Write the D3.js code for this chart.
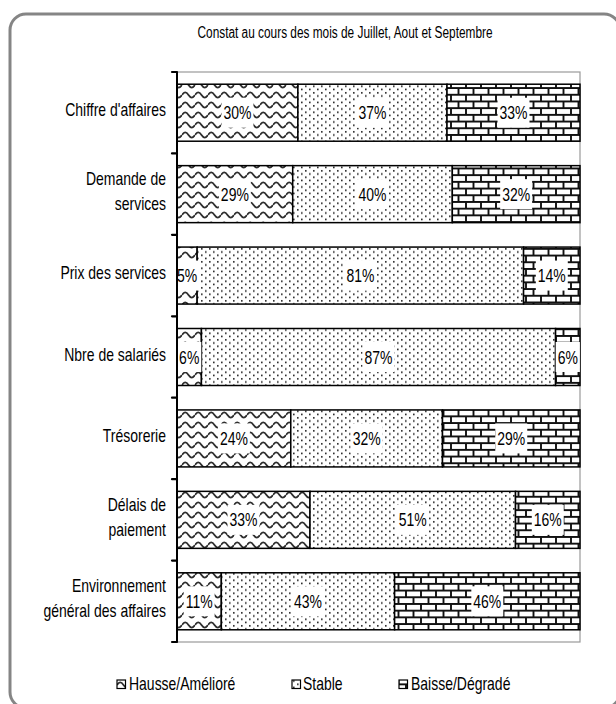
<!DOCTYPE html>
<html>
<head>
<meta charset="utf-8">
<script src="https://cdn.jsdelivr.net/npm/d3@7"></script>
<style>
  html, body { margin: 0; padding: 0; background: #fff; }
  svg { display: block; }
  text { font-family: "Liberation Sans", Arial, sans-serif; fill: #000; }
</style>
</head>
<body>
<svg id="chart" width="616" height="704"></svg>
<script>
// ---- data ----
const title = "Constat au cours des mois de Juillet, Aout et Septembre";
const categories = [
  "Chiffre d'affaires",
  "Demande de\nservices",
  "Prix des services",
  "Nbre de salariés",
  "Trésorerie",
  "Délais de\npaiement",
  "Environnement\ngénéral des affaires"
];
const seriesNames = ["Hausse/Amélioré", "Stable", "Baisse/Dégradé"];
const hausse = [30, 29, 5, 6, 24, 33, 11];
const stable = [37, 40, 81, 87, 32, 51, 43];
const baisse = [33, 32, 14, 6, 29, 16, 46];

// ---- layout ----
const SX = 0.76; // horizontal condensation (narrow font look)
const plot = { left: 177, right: 580, top: 72, bottom: 642 };
const svg = d3.select("#chart");

// patterns
const defs = svg.append("defs");
const pWave = defs.append("pattern").attr("id", "pWave").attr("patternUnits", "userSpaceOnUse")
  .attr("width", 13).attr("height", 10);
pWave.append("rect").attr("width", 13).attr("height", 10).attr("fill", "#fff");
pWave.append("path").attr("d", "M0,5 C2.2,1.6 4.3,1.6 6.5,5 S10.8,8.4 13,5")
  .attr("fill", "none").attr("stroke", "#2e2e2e").attr("stroke-width", 1.8);

const pDot = defs.append("pattern").attr("id", "pDot").attr("patternUnits", "userSpaceOnUse")
  .attr("width", 8).attr("height", 6.5);
pDot.append("rect").attr("width", 8).attr("height", 6.5).attr("fill", "#fff");
pDot.append("rect").attr("x", 1).attr("y", 1).attr("width", 1.6).attr("height", 1.6).attr("fill", "#222");
pDot.append("rect").attr("x", 5).attr("y", 4.2).attr("width", 1.6).attr("height", 1.6).attr("fill", "#222");

const pBrick = defs.append("pattern").attr("id", "pBrick").attr("patternUnits", "userSpaceOnUse")
  .attr("width", 15).attr("height", 13.4);
pBrick.append("rect").attr("width", 15).attr("height", 13.4).attr("fill", "#fff");
pBrick.append("path")
  .attr("d", "M0,0.9H15 M0,7.6H15 M1,0.9V7.6 M8.5,7.6V13.4")
  .attr("fill", "none").attr("stroke", "#111").attr("stroke-width", 1.9);

const fills = ["url(#pWave)", "url(#pDot)", "url(#pBrick)"];

// outer rounded frame
svg.append("rect")
  .attr("x", 10).attr("y", 14).attr("width", 610).attr("height", 694)
  .attr("rx", 16).attr("ry", 16)
  .attr("fill", "none").attr("stroke", "#858585").attr("stroke-width", 3);

// helper for condensed text
function ctext(parent, x, y, str, size, anchor) {
  const g = parent.append("g").attr("transform", `translate(${x},${y}) scale(${SX},1)`);
  const t = g.append("text").attr("x", 0).attr("y", 0)
    .attr("font-size", size).attr("text-anchor", anchor || "start").text(str);
  return { g, t };
}

// title
ctext(svg, 345, 38, title, 15.6, "middle");

// scales
const y = d3.scaleBand().domain(categories).range([plot.top, plot.bottom])
  .paddingInner(0.3).paddingOuter(0.15);
const x = d3.scaleLinear().domain([0, 1]).range([plot.left, plot.right]);

// stacked (normalized to 100%) data
const table = categories.map((c, i) => ({ cat: c, h: hausse[i], s: stable[i], b: baisse[i] }));
const stack = d3.stack().keys(["h", "s", "b"]).offset(d3.stackOffsetExpand);
const layers = stack(table);

// plot area border (gray)
svg.append("rect")
  .attr("x", plot.left).attr("y", plot.top)
  .attr("width", plot.right - plot.left).attr("height", plot.bottom - plot.top)
  .attr("fill", "none").attr("stroke", "#9a9a9a").attr("stroke-width", 1.2);

// bars
layers.forEach((layer, li) => {
  svg.append("g").selectAll("rect").data(layer).join("rect")
    .attr("x", d => x(d[0]))
    .attr("y", d => y(d.data.cat))
    .attr("width", d => x(d[1]) - x(d[0]))
    .attr("height", y.bandwidth())
    .attr("fill", fills[li])
    .attr("stroke", "#000").attr("stroke-width", 1.5);
});

// labels with white boxes
const labG = svg.append("g");
layers.forEach((layer, li) => {
  layer.forEach(d => {
    const val = d.data[layer.key];
    const cx = (x(d[0]) + x(d[1])) / 2;
    const cy = y(d.data.cat) + y.bandwidth() / 2;
    const { g, t } = ctext(labG, cx, cy + 6.5, val + "%", 18.4, "middle");
    const w = t.node().getComputedTextLength();
    g.insert("rect", "text")
      .attr("x", -w / 2 - 2 / SX).attr("y", -21.5)
      .attr("width", w + 4 / SX).attr("height", 30)
      .attr("fill", "#fff");
  });
});

// y axis line + ticks
svg.append("line")
  .attr("x1", plot.left).attr("x2", plot.left)
  .attr("y1", plot.top).attr("y2", plot.bottom)
  .attr("stroke", "#000").attr("stroke-width", 2);
const tickYs = categories.map(c => y(c) - y.step() * y.paddingInner() / 2);
tickYs[0] = plot.top;
tickYs.push(plot.bottom);
svg.append("g").selectAll("line").data(tickYs).join("line")
  .attr("x1", plot.left - 5).attr("x2", plot.left)
  .attr("y1", d => d).attr("y2", d => d)
  .attr("stroke", "#000").attr("stroke-width", 2.2).attr("stroke-linecap", "round");

// category labels
categories.forEach(c => {
  const lines = c.split("\n");
  const cy = y(c) + y.bandwidth() / 2 - 3;
  const lh = 25;
  lines.forEach((ln, k) => {
    const ly = cy + (k - (lines.length - 1) / 2) * lh + 6.5;
    ctext(svg, 166, ly, ln, 18.4, "end");
  });
});

// legend
const legendItems = [
  { x: 117, tx: 129 },
  { x: 292, tx: 303 },
  { x: 399, tx: 411 }
];
seriesNames.forEach((name, i) => {
  svg.append("rect")
    .attr("x", legendItems[i].x).attr("y", 680)
    .attr("width", 8.5).attr("height", 8.5)
    .attr("fill", fills[i]).attr("stroke", "#000").attr("stroke-width", 1.2);
  ctext(svg, legendItems[i].tx, 690, name, 18.4, "start");
});
</script>
</body>
</html>
